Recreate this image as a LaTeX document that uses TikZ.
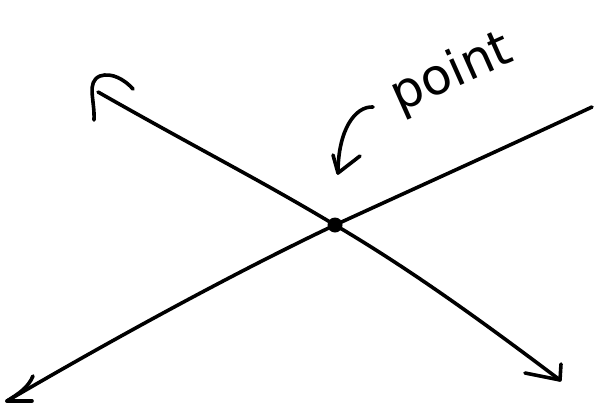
\documentclass[tikz,border=0pt]{standalone}
\usepackage{fontspec}
\setmainfont{DejaVu Sans}
\begin{document}
\begin{tikzpicture}[x=1pt,y=-1pt,
  stroke/.style={line width=3.6pt,line cap=round,line join=round,black},
  dotnode/.style={circle,fill=black,inner sep=0pt,minimum size=15pt},
  lbl/.style={font=\fontsize{50}{50}\selectfont,rotate=24,inner sep=0pt}]
\useasboundingbox (0,0) rectangle (594,410);
\node[dotnode] (P) at (335,225) {};
\node[lbl] (T) at (452,74) {point};
% line 1
\coordinate (L1s) at (98,92);
\coordinate (L1e) at (560,380);
\coordinate (H1) at (94,120);
\coordinate (H2) at (133,89);
\coordinate (A1) at (525,373);
\coordinate (A2) at (561,364);
\draw[stroke] (L1s) .. controls (200,150) and (260,180) .. (P.center)
  .. controls (420,275) and (500,335) .. (L1e);
\draw[stroke] (H1) .. controls (95,100) and (86,82) .. (100,76) .. controls (112,72) and (125,80) .. (H2);
\draw[stroke] (A1) -- (L1e) -- (A2);
% line 2
\coordinate (L2s) at (7,401);
\coordinate (L2e) at (592,107);
\coordinate (B1) at (32,401);
\coordinate (B2) at (33,376);
\draw[stroke] (L2s) .. controls (120,335) and (240,270) .. (P.center)
  .. controls (420,186) and (500,150) .. (L2e);
\draw[stroke] (B1) -- (L2s);
\draw[stroke] (B2) .. controls (28,388) and (18,394) .. (L2s);
% pointer arrow
\coordinate (C1) at (373,107);
\coordinate (C2) at (338,173);
\coordinate (C3) at (333,155);
\coordinate (C4) at (360,156);
\draw[stroke] (C1) .. controls (355,106) and (338,130) .. (C2);
\draw[stroke] (C3) -- (C2) -- (C4);
\end{tikzpicture}
\end{document}
